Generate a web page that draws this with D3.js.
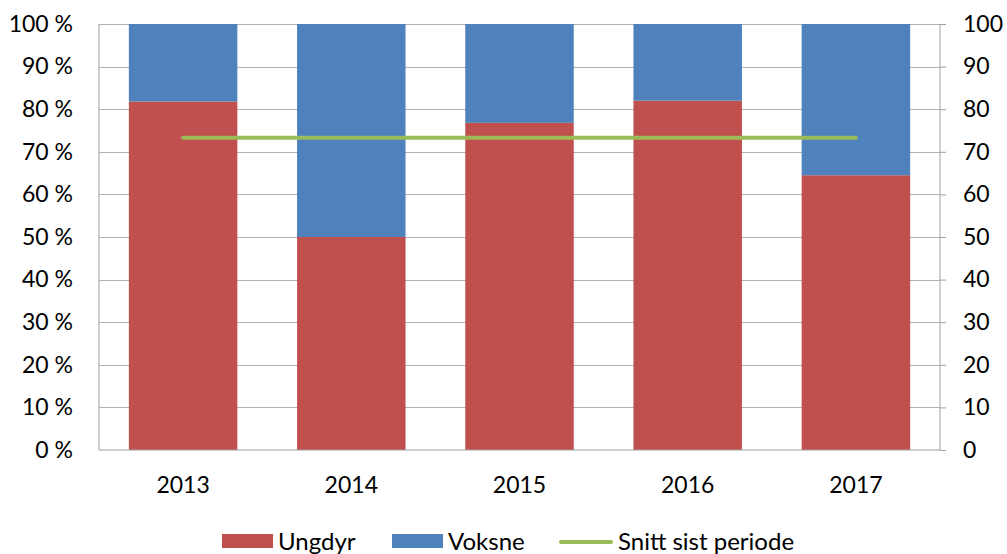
<!DOCTYPE html>
<html>
<head>
<meta charset="utf-8">
<script src="https://cdn.jsdelivr.net/npm/d3@7"></script>
<style>
  body { margin: 0; background: #fff; }
  svg text { font-family: Lato, "Open Sans", sans-serif; fill: #000; }
</style>
</head>
<body>
<div class="chart"></div>
<script>
const years = ["2013", "2014", "2015", "2016", "2017"];
const ungdyr = [81.8, 50, 76.8, 82, 64.5];
const voksne = [18.2, 50, 23.2, 18, 35.5];
const snitt = [73.3, 73.3, 73.3, 73.3, 73.3];
const yTicks = [0, 10, 20, 30, 40, 50, 60, 70, 80, 90, 100];
const seriesNames = ["Ungdyr", "Voksne", "Snitt sist periode"];
const colors = ["#c0504d", "#4f81bd", "#9bbb59"];

const W = 1007, H = 554;
const margin = { top: 24, right: 67, bottom: 104, left: 99 };
const width = W - margin.left - margin.right,
  height = H - margin.top - margin.bottom;

const svg = d3.select(".chart").append("svg")
  .attr("width", W).attr("height", H);
const g = svg.append("g")
  .attr("transform", `translate(${margin.left},${margin.top})`);

const x = d3.scaleBand().domain(years).range([0, width])
  .paddingInner(0.355).paddingOuter(0.1775);
const y = d3.scaleLinear().domain([0, 100]).range([height, 0]);

// gridlines
g.append("g").selectAll("line").data(yTicks.filter(d => d > 0)).join("line")
  .attr("x1", 0).attr("x2", width)
  .attr("y1", d => Math.round(y(d)) + 0.5).attr("y2", d => Math.round(y(d)) + 0.5)
  .attr("stroke", "#b0b0b0");

// stacked bars
const rows = years.map((yr, i) => ({ year: yr, Ungdyr: ungdyr[i], Voksne: voksne[i] }));
const stack = d3.stack().keys(["Ungdyr", "Voksne"])(rows);
g.append("g").selectAll("g").data(stack).join("g")
  .attr("fill", (d, i) => colors[i])
  .selectAll("rect").data(d => d).join("rect")
  .attr("x", d => x(d.data.year))
  .attr("width", x.bandwidth())
  .attr("y", d => y(d[1]))
  .attr("height", d => y(d[0]) - y(d[1]));

// average line
const line = d3.line()
  .x((d, i) => x(years[i]) + x.bandwidth() / 2)
  .y(d => y(d));
g.append("path").datum(snitt)
  .attr("d", line).attr("fill", "none")
  .attr("stroke", colors[2]).attr("stroke-width", 4)
  .attr("stroke-linecap", "round");

// axes
const leftAxis = g.append("g")
  .call(d3.axisLeft(y).tickValues(yTicks).tickSize(0).tickPadding(26)
    .tickFormat(d => d + " %"));
const rightAxis = g.append("g").attr("transform", `translate(${width},0)`)
  .call(d3.axisRight(y).tickValues(yTicks).tickSize(6).tickPadding(17));
const bottomAxis = g.append("g").attr("transform", `translate(0,${height})`)
  .call(d3.axisBottom(x).tickSize(0).tickPadding(27));

[leftAxis, rightAxis, bottomAxis].forEach(a => {
  a.selectAll(".domain").attr("stroke", "#a0a0a0");
  a.selectAll(".tick line").attr("stroke", "#a0a0a0");
  a.selectAll("text").attr("font-size", 23).attr("fill", "#111");
});
leftAxis.selectAll(".domain").attr("d", `M0,0V${height}`);
rightAxis.selectAll(".domain").attr("d", `M0,0V${height}`);
bottomAxis.selectAll(".domain").attr("d", `M0,0H${width}`);

// legend
const legendItems = [
  { name: seriesNames[0], x: 222, type: "rect", color: colors[0] },
  { name: seriesNames[1], x: 392, type: "rect", color: colors[1] },
  { name: seriesNames[2], x: 559, type: "line", color: colors[2] }
];
const legend = svg.append("g");
legendItems.forEach(it => {
  const lg = legend.append("g").attr("transform", `translate(${it.x},0)`);
  if (it.type === "rect") {
    lg.append("rect").attr("x", 0).attr("y", 534).attr("width", 51).attr("height", 14)
      .attr("fill", it.color);
  } else {
    lg.append("line").attr("x1", 2).attr("x2", 52).attr("y1", 542).attr("y2", 542)
      .attr("stroke", it.color).attr("stroke-width", 4).attr("stroke-linecap", "round");
  }
  lg.append("text").attr("x", it.type === "rect" ? 56 : 59).attr("y", 550)
    .attr("font-size", 24).attr("fill", "#111").text(it.name);
});
</script>
</body>
</html>
